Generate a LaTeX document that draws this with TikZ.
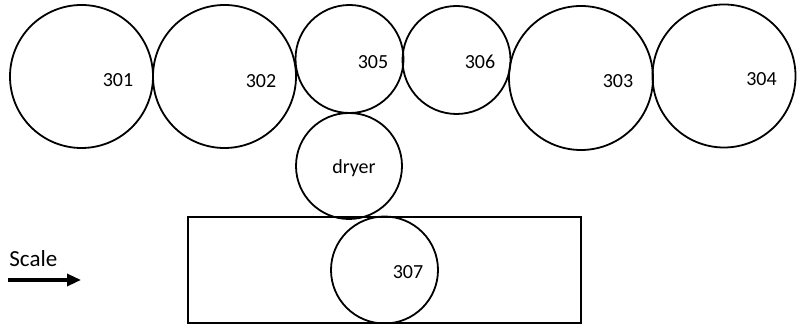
\documentclass[tikz,border=0pt]{standalone}
\usepackage{fontspec}
\setmainfont{Carlito}
\usetikzlibrary{arrows.meta}
\begin{document}
\begin{tikzpicture}[x=0.5pt,y=-0.5pt,
  roll/.style={circle,draw,line width=0.9pt,inner sep=0pt,minimum size=#1*1pt},
  lbl/.style={inner sep=0pt,font=\fontsize{10}{12}\selectfont},
  box/.style={draw,line width=0.7pt}]
\useasboundingbox (0,0) rectangle (809,324);
% tray
\node[box,minimum width=393*0.5pt,minimum height=106*0.5pt,inner sep=0pt] (tray) at (384.5,270) {};
% rolls
\node[roll=71.5] (r301) at (81.5,76.5) {};
\node[roll=71.5] (r302) at (224.5,76.5) {};
\node[roll=54] (r305) at (349.5,59) {};
\node[roll=54] (r306) at (456.5,60) {};
\node[roll=72] (r303) at (581,78) {};
\node[roll=71.5] (r304) at (724,76) {};
\node[roll=53] (dryer) at (349,166) {};
\node[roll=53.5] (r307) at (384.5,270) {};
% labels
\node[lbl] (t301) at (118,80) {301};
\node[lbl] (t302) at (261,81) {302};
\node[lbl] (t305) at (373,62) {305};
\node[lbl] (t306) at (480,62) {306};
\node[lbl] (t303) at (618,81) {303};
\node[lbl] (t304) at (761.5,79) {304};
\node[lbl] (tdryer) at (354,168) {dryer};
\node[lbl] (t307) at (408,272) {307};
% scale
\node[inner sep=0pt,anchor=west,font=\fontsize{11.5}{13}\selectfont] (scale) at (9,259) {Scale};
\coordinate (as) at (8,280);
\coordinate (ae) at (81,280);
\draw[line width=1.6pt,-{Triangle[length=7pt,width=6pt]}] (as) -- (ae);
\end{tikzpicture}
\end{document}
